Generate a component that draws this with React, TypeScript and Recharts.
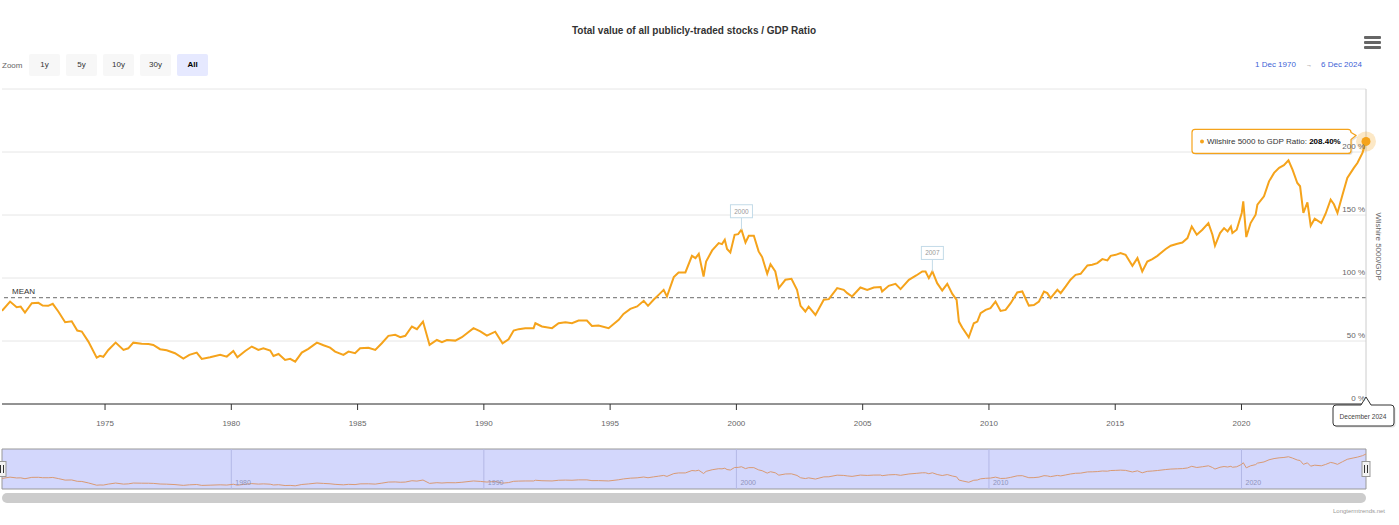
import React from 'react';
import { LineChart, Line, XAxis, YAxis, CartesianGrid, ReferenceLine, ReferenceDot, ReferenceArea } from 'recharts';

const FONT = '"Liberation Sans", Arial, Helvetica, sans-serif';

const chartTitle = 'Total value of all publicly-traded stocks / GDP Ratio';
const seriesName = 'Wilshire 5000 to GDP Ratio';
const axisTitle = 'Wilshire 5000/GDP';
const zoomButtons = ['1y', '5y', '10y', '30y', 'All'];
const rangeFrom = '1 Dec 1970';
const rangeTo = '6 Dec 2024';
const lastLabel = 'December 2024';
const credits = 'Longtermtrends.net';

const years = [
  1970.92, 1971.24, 1971.50, 1971.66, 1971.83, 1972.10, 1972.36, 1972.53, 1972.75, 1972.93,
  1973.15, 1973.42, 1973.68, 1973.90, 1974.08, 1974.34, 1974.67, 1974.80, 1974.93, 1975.13,
  1975.42, 1975.73, 1975.92, 1976.12, 1976.45, 1976.72, 1976.91, 1977.18, 1977.44, 1977.77,
  1978.10, 1978.34, 1978.63, 1978.83, 1979.16, 1979.56, 1979.82, 1980.08, 1980.24, 1980.55,
  1980.81, 1981.07, 1981.27, 1981.54, 1981.67, 1981.87, 1982.13, 1982.33, 1982.53, 1982.79,
  1983.05, 1983.39, 1983.65, 1983.91, 1984.11, 1984.44, 1984.64, 1984.90, 1985.10, 1985.43,
  1985.70, 1985.96, 1986.22, 1986.49, 1986.69, 1986.89, 1987.15, 1987.35, 1987.59, 1987.85,
  1988.14, 1988.34, 1988.54, 1988.87, 1989.13, 1989.59, 1989.86, 1990.12, 1990.45, 1990.74,
  1990.98, 1991.18, 1991.38, 1991.64, 1991.97, 1992.04, 1992.30, 1992.70, 1992.96, 1993.23,
  1993.49, 1993.75, 1994.08, 1994.28, 1994.54, 1994.94, 1995.34, 1995.53, 1995.80, 1996.07,
  1996.33, 1996.50, 1996.72, 1996.92, 1997.12, 1997.25, 1997.52, 1997.71, 1997.98, 1998.24,
  1998.38, 1998.51, 1998.70, 1998.80, 1999.04, 1999.30, 1999.43, 1999.54, 1999.63, 1999.76,
  1999.93, 2000.07, 2000.20, 2000.36, 2000.49, 2000.69, 2000.88, 2001.02, 2001.22, 2001.35,
  2001.54, 2001.68, 2001.94, 2002.18, 2002.40, 2002.54, 2002.73, 2002.86, 2003.13, 2003.46,
  2003.66, 2003.99, 2004.25, 2004.39, 2004.58, 2004.91, 2005.18, 2005.44, 2005.71, 2005.77,
  2006.03, 2006.30, 2006.50, 2006.83, 2007.12, 2007.36, 2007.49, 2007.62, 2007.76, 2007.95,
  2008.15, 2008.35, 2008.55, 2008.72, 2008.81, 2008.94, 2009.20, 2009.40, 2009.54, 2009.67,
  2009.87, 2010.06, 2010.26, 2010.46, 2010.66, 2010.86, 2011.12, 2011.32, 2011.58, 2011.78,
  2011.98, 2012.18, 2012.31, 2012.44, 2012.71, 2012.84, 2013.04, 2013.23, 2013.43, 2013.63,
  2013.90, 2014.09, 2014.29, 2014.49, 2014.69, 2014.82, 2015.02, 2015.21, 2015.41, 2015.68,
  2015.88, 2016.07, 2016.27, 2016.47, 2016.67, 2017.00, 2017.20, 2017.46, 2017.66, 2017.86,
  2018.03, 2018.23, 2018.45, 2018.69, 2018.85, 2018.95, 2019.15, 2019.31, 2019.45, 2019.58,
  2019.64, 2019.81, 2020.01, 2020.07, 2020.19, 2020.36, 2020.56, 2020.63, 2020.89, 2021.09,
  2021.29, 2021.49, 2021.68, 2021.86, 2022.02, 2022.21, 2022.32, 2022.45, 2022.61, 2022.74,
  2022.90, 2023.16, 2023.33, 2023.53, 2023.66, 2023.80, 2024.00, 2024.19, 2024.45, 2024.59,
  2024.79, 2024.93,
];

const ratios = [
  74.0, 81.3, 76.8, 77.3, 72.6, 80.0, 80.3, 78.1, 77.9, 79.5,
  73.4, 64.9, 65.7, 58.3, 57.5, 49.5, 36.8, 38.2, 37.5, 42.9,
  48.7, 42.9, 44.2, 48.7, 47.9, 47.7, 46.9, 43.5, 42.6, 40.3,
  36.0, 39.0, 40.8, 35.8, 37.1, 39.0, 37.6, 42.1, 37.1, 42.1,
  45.6, 42.9, 44.2, 42.4, 38.1, 39.7, 35.0, 35.8, 33.6, 40.8,
  43.8, 48.7, 46.6, 44.7, 41.6, 39.0, 41.6, 40.3, 44.2, 44.7,
  42.9, 48.2, 54.1, 54.9, 53.0, 54.1, 61.5, 59.4, 65.4, 46.9,
  50.8, 49.0, 50.8, 50.3, 53.0, 60.2, 57.7, 54.3, 57.4, 48.2,
  51.4, 58.3, 59.4, 60.2, 60.2, 64.1, 61.5, 60.2, 64.1, 64.9,
  64.1, 66.2, 66.2, 62.0, 62.3, 60.2, 66.8, 71.5, 75.5, 77.4,
  81.9, 77.9, 82.7, 86.6, 90.6, 85.3, 100.7, 104.4, 104.4, 117.6,
  115.8, 119.2, 101.2, 113.1, 121.9, 127.7, 126.9, 130.4, 123.0, 120.3,
  134.3, 134.8, 138.3, 128.2, 133.5, 133.5, 121.1, 116.6, 103.3, 111.0,
  105.2, 92.0, 98.6, 99.4, 90.6, 77.9, 73.4, 77.3, 70.7, 82.7,
  83.2, 92.0, 90.6, 88.0, 85.3, 92.5, 90.6, 92.5, 92.8, 89.3,
  93.8, 95.4, 91.2, 98.6, 102.0, 105.2, 105.2, 99.9, 105.2, 95.9,
  90.1, 95.4, 87.4, 82.7, 65.4, 60.7, 53.0, 64.1, 65.4, 72.1,
  74.7, 76.1, 81.3, 73.9, 74.7, 80.0, 88.5, 89.3, 78.1, 78.6,
  81.3, 89.3, 88.0, 84.0, 90.6, 88.0, 93.3, 98.6, 102.5, 103.3,
  110.0, 110.5, 111.8, 115.0, 114.0, 117.6, 118.4, 119.8, 118.4, 109.7,
  115.8, 105.2, 113.1, 115.0, 117.6, 123.0, 125.6, 127.2, 128.2, 131.7,
  140.9, 134.3, 138.3, 143.6, 134.3, 125.6, 135.7, 139.6, 137.0, 140.9,
  135.7, 138.3, 151.6, 160.8, 132.5, 143.6, 150.2, 158.2, 164.8, 176.7,
  183.4, 187.4, 189.5, 193.4, 186.0, 175.4, 172.8, 151.6, 160.0, 141.5,
  147.1, 143.6, 151.0, 162.2, 158.5, 151.6, 166.1, 179.4, 187.4, 191.3,
  199.3, 208.4,
];

const xTicks = [1975, 1980, 1985, 1990, 1995, 2000, 2005, 2010, 2015, 2020];
const yTicks = [0, 50, 100, 150, 200, 250];
const yLabelled = [0, 50, 100, 150, 200];
const navTicks = [1980, 1990, 2000, 2010, 2020];
const meanValue = 84.5;
const annotationYears = [2000.2, 2007.76];
const annotationValues = [138.3, 105.2];
const annotationLabels = ['2000', '2007'];

const ORANGE = '#f5a31b';
const data = years.map((t, i) => ({ t, v: ratios[i] }));
const tMin = years[0];
const tMax = years[years.length - 1];
const lastV = ratios[ratios.length - 1];

const YTick = (props: any) => {
  const { x, y, payload } = props;
  if (!yLabelled.includes(payload.value)) return null;
  return (
    <text x={x - 1} y={y - 3} textAnchor="end" fontSize={8} fill="#666" fontFamily={FONT}>
      {payload.value} %
    </text>
  );
};

const YTitle = (props: any) => {
  const vb = props.viewBox || {};
  const x = vb.x + 12;
  const y = vb.y + vb.height / 2;
  return (
    <text x={x} y={y} transform={`rotate(90, ${x}, ${y})`} textAnchor="middle" dominantBaseline="central" fontSize={8} fill="#666" fontFamily={FONT}>
      {axisTitle}
    </text>
  );
};

const MeanLabel = (props: any) => {
  const vb = props.viewBox || {};
  return (
    <text x={vb.x + 10} y={vb.y - 4} fontSize={8} fill="#333" fontFamily={FONT}>MEAN</text>
  );
};

const makeAnnotation = (label: string) => (props: any) => {
  const { cx, cy } = props;
  const w = 22, h = 13;
  const bottom = cy - 12;
  return (
    <g>
      <line x1={cx} y1={cy} x2={cx} y2={bottom} stroke="#c3dbe8" strokeWidth={1} />
      <rect x={cx - w / 2} y={bottom - h} width={w} height={h} fill="#fff" stroke="#c3dbe8" strokeWidth={1} />
      <text x={cx} y={bottom - h / 2} dominantBaseline="central" textAnchor="middle" fontSize={6.5} fill="#999" fontFamily={FONT}>{label}</text>
    </g>
  );
};

const LastPoint = (props: any) => {
  const { cx, cy } = props;
  const left = cx - 174, right = cx - 15, top = cy - 12, bottom = cy + 12, r = 3;
  const d = `M ${left + r} ${top} H ${right - r} Q ${right} ${top} ${right} ${top + r} L ${right + 5} ${top + 6} L ${right} ${top + 10} V ${bottom - r} Q ${right} ${bottom} ${right - r} ${bottom} H ${left + r} Q ${left} ${bottom} ${left} ${bottom - r} V ${top + r} Q ${left} ${top} ${left + r} ${top} Z`;
  return (
    <g>
      <circle cx={cx} cy={cy} r={10} fill={ORANGE} fillOpacity={0.25} />
      <circle cx={cx} cy={cy} r={4.5} fill={ORANGE} />
      <path d={d} fill="#000" fillOpacity={0.12} transform="translate(1.5,1.5)" />
      <path d={d} fill="#fff" fillOpacity={0.96} stroke={ORANGE} strokeWidth={1.2} />
      <circle cx={left + 10} cy={cy} r={2} fill={ORANGE} />
      <text x={left + 15} y={cy} dominantBaseline="central" fontSize={8} fill="#333" fontFamily={FONT}>
        <tspan>{seriesName}: </tspan>
        <tspan fontWeight="bold" fill="#000">{lastV.toFixed(2)}%</tspan>
      </text>
    </g>
  );
};

const DateLabel = (props: any) => {
  const { cx, cy } = props;
  const left = cx - 33, right = cx + 28, top = cy + 1, bottom = cy + 22, r = 3;
  const d = `M ${left + r} ${top} H ${cx - 5} L ${cx} ${cy - 7} L ${cx + 5} ${top} H ${right - r} Q ${right} ${top} ${right} ${top + r} V ${bottom - r} Q ${right} ${bottom} ${right - r} ${bottom} H ${left + r} Q ${left} ${bottom} ${left} ${bottom - r} V ${top + r} Q ${left} ${top} ${left + r} ${top} Z`;
  return (
    <g>
      <path d={d} fill="#000" fillOpacity={0.12} transform="translate(1.5,1.5)" />
      <path d={d} fill="#fff" stroke="#333" strokeWidth={1} />
      <text x={cx - 3} y={cy + 12} dominantBaseline="central" textAnchor="middle" fontSize={6.6} fill="#444" fontFamily={FONT}>{lastLabel}</text>
    </g>
  );
};

const Handle = (props: any) => {
  const { cx, cy } = props;
  return (
    <g>
      <rect x={cx - 4} y={cy - 7.5} width={8} height={15} fill="#f2f2f2" stroke="#999" strokeWidth={1} />
      <line x1={cx - 1.5} y1={cy - 4} x2={cx - 1.5} y2={cy + 4} stroke="#333" strokeWidth={1} />
      <line x1={cx + 1.5} y1={cy - 4} x2={cx + 1.5} y2={cy + 4} stroke="#333" strokeWidth={1} />
    </g>
  );
};

export default function App() {
  const navMin = 16, navMax = 236;
  return (
    <div style={{ position: 'absolute', left: 0, top: 0, width: 1399, height: 525, background: '#fff', fontFamily: FONT, overflow: 'hidden' }}>
      <div style={{ position: 'absolute', left: 0, top: 25, width: 1388, textAlign: 'center', fontSize: 10, fontWeight: 'bold', color: '#333', lineHeight: '12px' }}>
        {chartTitle}
      </div>
      <div style={{ position: 'absolute', left: 2, top: 61, fontSize: 8, color: '#666', lineHeight: '10px' }}>Zoom</div>
      {zoomButtons.map((b, i) => (
        <div key={b} style={{ position: 'absolute', left: 29 + i * 37, top: 54, width: 31, height: 22, borderRadius: 2, background: b === 'All' ? '#e6e9ff' : '#f7f7f7', color: b === 'All' ? '#000' : '#333', fontWeight: b === 'All' ? 'bold' : 'normal', fontSize: 8, lineHeight: '22px', textAlign: 'center' }}>
          {b}
        </div>
      ))}
      <div style={{ position: 'absolute', left: 1255, top: 60, fontSize: 8, color: '#3d5fd6', lineHeight: '10px' }}>{rangeFrom}</div>
      <div style={{ position: 'absolute', left: 1306, top: 60, fontSize: 6, color: '#666', lineHeight: '10px' }}>→</div>
      <div style={{ position: 'absolute', left: 1321, top: 60, fontSize: 8, color: '#3d5fd6', lineHeight: '10px' }}>{rangeTo}</div>
      {[0, 1, 2].map((i) => (
        <div key={i} style={{ position: 'absolute', left: 1364, top: 36 + i * 5, width: 17, height: 2.6, borderRadius: 1, background: '#666' }} />
      ))}

      <div style={{ position: 'absolute', left: 0, top: 0 }}>
        <LineChart width={1399} height={440} data={data} margin={{ top: 89, left: 2, right: 0, bottom: 0 }}>
          <CartesianGrid vertical={false} stroke="#e6e6e6" />
          <XAxis
            dataKey="t"
            type="number"
            domain={[tMin, tMax]}
            ticks={xTicks}
            allowDataOverflow
            height={36}
            tickSize={6}
            tickMargin={10}
            axisLine={{ stroke: '#333' }}
            tickLine={{ stroke: '#333' }}
            tick={{ fontSize: 8, fill: '#666', fontFamily: FONT }}
            tickFormatter={(v: number) => String(v)}
          />
          <YAxis
            orientation="right"
            width={33}
            domain={[0, 250]}
            ticks={yTicks}
            allowDataOverflow
            axisLine={{ stroke: '#ccc' }}
            tickLine={false}
            tickSize={0}
            tickMargin={0}
            tick={<YTick />}
            label={YTitle}
          />
          <ReferenceLine y={meanValue} stroke="#888" strokeWidth={1.2} strokeDasharray="4 3" label={MeanLabel} />
          <Line type="linear" dataKey="v" stroke={ORANGE} strokeWidth={2} dot={false} activeDot={false} isAnimationActive={false} />
          {annotationYears.map((t, i) => (
            <ReferenceDot key={t} x={t} y={annotationValues[i]} r={0} ifOverflow="visible" shape={makeAnnotation(annotationLabels[i])} />
          ))}
          <ReferenceDot x={tMax} y={0} ifOverflow="visible" shape={DateLabel} />
          <ReferenceDot x={tMax} y={lastV} ifOverflow="visible" shape={LastPoint} />
        </LineChart>
      </div>

      <div style={{ position: 'absolute', left: 0, top: 440 }}>
        <LineChart width={1399} height={60} data={data} margin={{ top: 9, left: 2, right: 33, bottom: 11 }}>
          <CartesianGrid horizontal={false} vertical={false} fill="#d3d7fc" />
          <XAxis dataKey="t" type="number" domain={[tMin, tMax]} hide allowDataOverflow />
          <YAxis domain={[navMin, navMax]} hide allowDataOverflow />
          {navTicks.map((t) => (
            <ReferenceLine key={t} x={t} stroke="#b3b8e6" strokeWidth={1} label={{ value: String(t), position: 'insideBottomLeft', offset: 4, fontSize: 7, fill: '#8e93bb', fontFamily: FONT }} />
          ))}
          <Line type="linear" dataKey="v" stroke="#d99a74" strokeWidth={1} dot={false} activeDot={false} isAnimationActive={false} />
          <ReferenceArea x1={tMin} x2={tMax} y1={navMin} y2={navMax} fill="none" stroke="#999" strokeWidth={1} ifOverflow="visible" />
          <ReferenceDot x={tMin} y={(navMin + navMax) / 2} ifOverflow="visible" shape={Handle} />
          <ReferenceDot x={tMax} y={(navMin + navMax) / 2} ifOverflow="visible" shape={Handle} />
        </LineChart>
      </div>

      <div style={{ position: 'absolute', left: 2, top: 493, width: 1364, height: 10, borderRadius: 5, background: '#cccccc' }} />
      <div style={{ position: 'absolute', left: 1333, top: 508, fontSize: 6, color: '#999', lineHeight: '7px' }}>{credits}</div>
    </div>
  );
}
